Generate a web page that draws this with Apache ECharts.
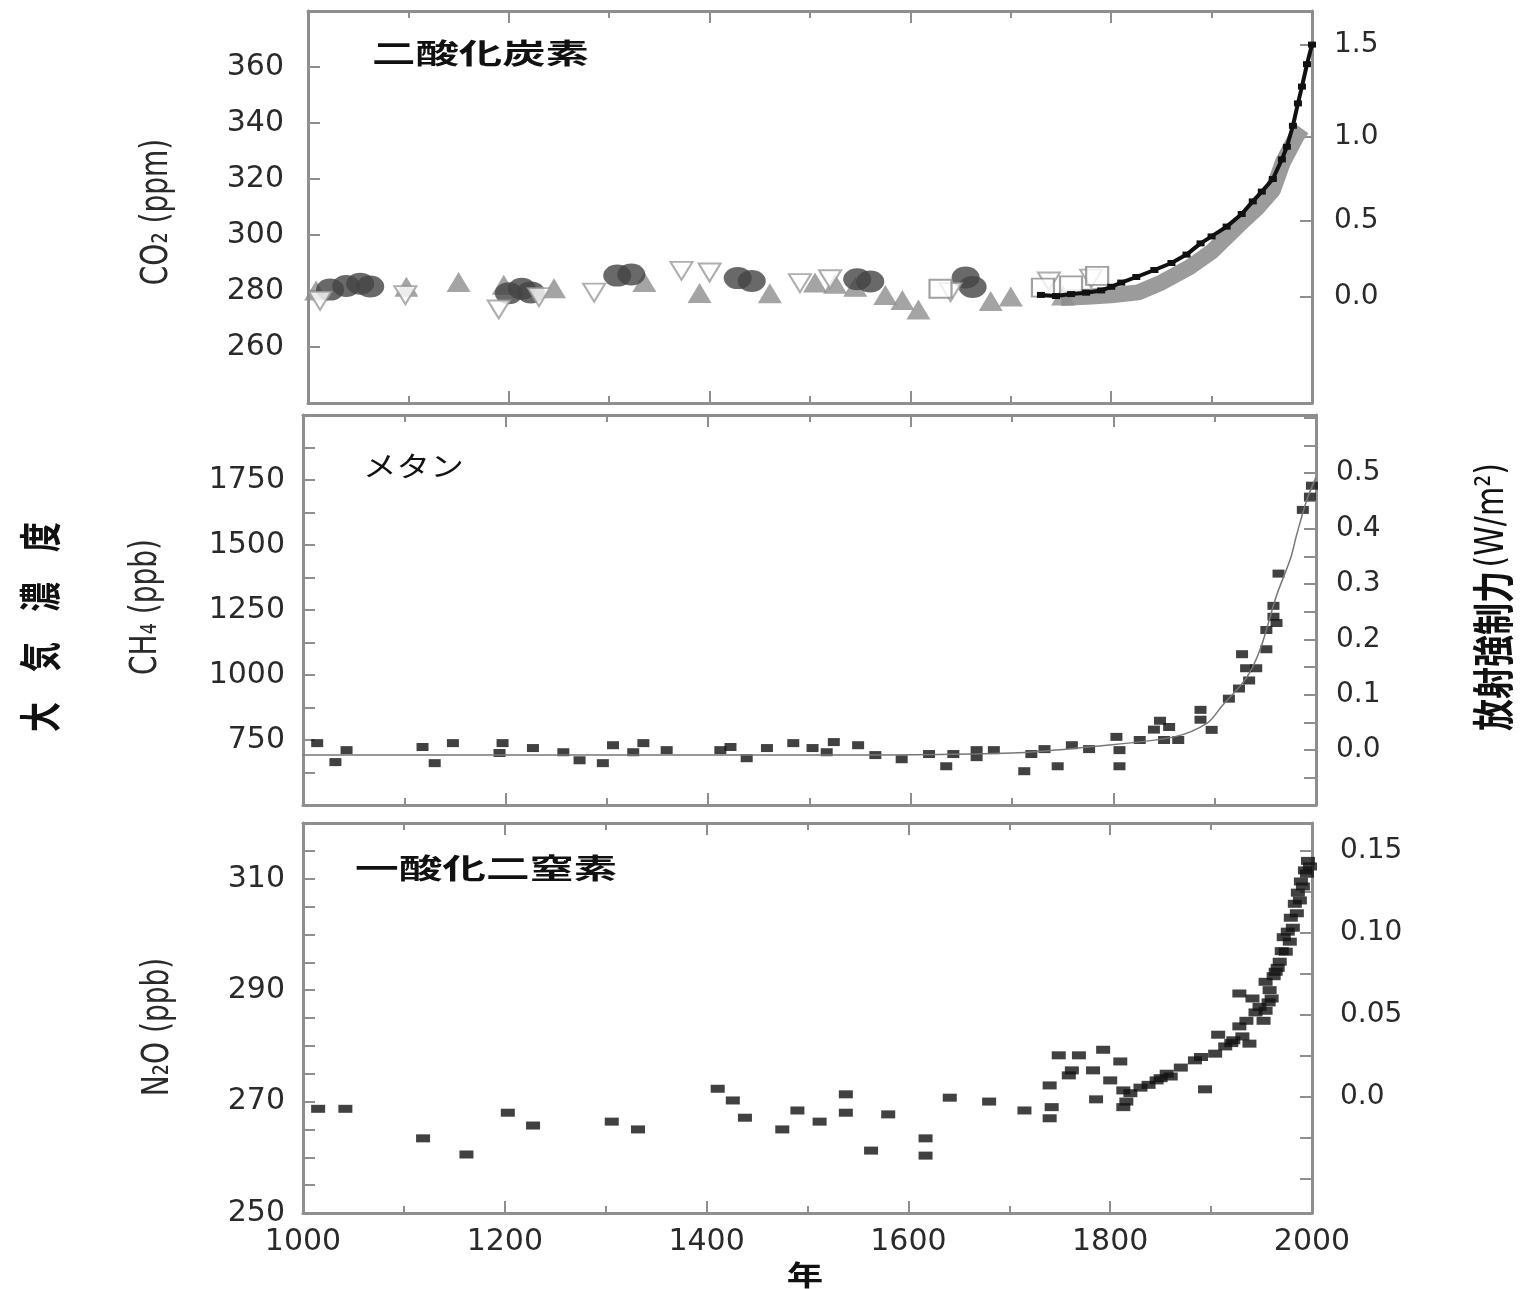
<!DOCTYPE html>
<html>
<head>
<meta charset="utf-8">
<title>大気濃度と放射強制力</title>
<script src="https://cdn.jsdelivr.net/npm/echarts@6/dist/echarts.min.js"></script>
<style>
  html, body { margin: 0; padding: 0; background: #fff; }
  #chart { width: 1533px; height: 1289px; }
</style>
</head>
<body>
<div id="chart"></div>
<script>
// ---- データ ----
// 年の目盛り
const yearTicks = [1000, 1200, 1400, 1600, 1800, 2000];

// 二酸化炭素 (ppm)
const co2Ticks = [260, 280, 300, 320, 340, 360];
const co2ForcingLabels = ['0.0', '0.5', '1.0', '1.5'];
const co2Circles = [[1022, 280.5], [1038, 281.8], [1052, 282.6], [1062, 281.6], [1200, 279.2], [1213, 280.8],
  [1222, 279.5], [1308, 285.5], [1322, 285.9], [1428, 284.6], [1442, 283.6], [1547, 284.2], [1560, 283.4],
  [1655, 284.8], [1662, 281.4]];
const co2UpTri = [[1008, 280.2], [1098, 281.5], [1150, 283.2], [1195, 282.2], [1245, 281], [1335, 283.2],
  [1390, 279.3], [1460, 279.2], [1505, 283], [1525, 282.6], [1545, 281.5], [1575, 278.6], [1592, 276.8],
  [1608, 273.4], [1680, 276.4], [1700, 278], [1752, 278.4]];
const co2DownTri = [[1012, 276.5], [1097, 278.5], [1190, 273.4], [1230, 277.8], [1285, 279.4], [1372, 287.2],
  [1400, 286.6], [1490, 282.8], [1520, 284.2], [1640, 279.6], [1738, 283.4], [1780, 284.4]];
const co2Squares = [[1630, 280.8], [1732, 281.2], [1760, 282], [1786, 285.4]];
const co2Band = [[1750, 277.5], [1780, 278], [1800, 278.5], [1827, 279.5], [1850, 283], [1878, 288.5],
  [1900, 294], [1927, 303.5], [1945, 309.5], [1961, 316], [1971, 326], [1985, 335.5], [1990, 338]];
const co2Modern = [[1730, 278.6], [1745, 278.2], [1760, 278.9], [1775, 279.4], [1790, 280.2], [1800, 281.5],
  [1810, 283], [1825, 285], [1843, 287.5], [1860, 290], [1875, 293], [1889, 297], [1900, 299.5], [1915, 303],
  [1930, 307.5], [1941, 312], [1950, 315.5], [1961, 320], [1970, 327], [1975, 331.5], [1981, 339],
  [1986, 347], [1990, 353], [1995, 361], [2000, 368]];

// メタン (ppb)
const ch4Ticks = [750, 1000, 1250, 1500, 1750];
const ch4ForcingLabels = ['0.0', '0.1', '0.2', '0.3', '0.4', '0.5'];
const ch4Fit = [[1000, 692], [1500, 692], [1700, 700], [1780, 725], [1860, 762], [1893, 816], [1907, 880],
  [1931, 987], [1945, 1100], [1961, 1305], [1975, 1450], [1981, 1541], [1991, 1674], [2000, 1760]];
const ch4Points = [[1014, 738], [1032, 665], [1043, 711], [1118, 723], [1130, 661], [1148, 738], [1194, 700],
  [1197, 738], [1227, 719], [1257, 703], [1273, 672], [1296, 661], [1306, 730], [1326, 703], [1336, 738],
  [1359, 711], [1412, 711], [1422, 723], [1438, 680], [1458, 719], [1484, 738], [1503, 719], [1517, 703],
  [1524, 742], [1548, 730], [1565, 692], [1591, 676], [1618, 696], [1635, 649], [1642, 696], [1665, 711],
  [1665, 684], [1682, 711], [1712, 630], [1719, 696], [1732, 715], [1745, 649], [1759, 730], [1776, 715],
  [1803, 762], [1806, 711], [1806, 649], [1826, 750], [1840, 790], [1846, 824], [1850, 750], [1855, 800],
  [1864, 750], [1886, 866], [1886, 828], [1897, 789], [1914, 909], [1924, 948], [1927, 1080], [1931, 1026],
  [1934, 979], [1941, 1026], [1951, 1099], [1951, 1173], [1958, 1224], [1958, 1266], [1961, 1200],
  [1963, 1390], [1987, 1635], [1994, 1686], [1996, 1728]];

// 一酸化二窒素 (ppb)
const n2oTicks = [250, 270, 290, 310];
const n2oForcingLabels = ['0.0', '0.05', '0.10', '0.15'];
const n2oPoints = [[1015, 268.7], [1042, 268.7], [1119, 263.4], [1162, 260.5], [1203, 268], [1228, 265.7],
  [1306, 266.4], [1332, 265], [1411, 272.3], [1426, 270.2], [1438, 267.1], [1475, 265], [1490, 268.4],
  [1512, 266.4], [1538, 271.3], [1538, 268], [1563, 261.2], [1580, 267.7], [1617, 263.4], [1617, 260.3],
  [1641, 270.7], [1680, 270], [1715, 268.4], [1740, 272.9], [1742, 269], [1740, 267], [1749, 278.3],
  [1769, 278.3], [1759, 274.7], [1762, 275.6], [1783, 275.6], [1793, 279.3], [1786, 270.4], [1800, 273.8],
  [1810, 277.2], [1813, 272], [1813, 269], [1816, 270], [1820, 271.5], [1830, 272.5], [1838, 273],
  [1846, 273.8], [1850, 274.2], [1856, 275], [1860, 274.5], [1870, 276.1], [1884, 277.4], [1890, 278],
  [1894, 272.2], [1904, 278.6], [1907, 282], [1914, 279.9], [1920, 280.5], [1922, 281], [1928, 283.5],
  [1931, 281.7], [1935, 284.5], [1938, 280.4], [1928, 289.4], [1941, 288.5], [1944, 286], [1948, 287],
  [1952, 284.5], [1954, 286.3], [1957, 287.8], [1954, 291.5], [1958, 290], [1960, 288.5], [1962, 292.5],
  [1964, 293.3], [1966, 294], [1968, 295.1], [1970, 297], [1972, 299.5], [1974, 296.9], [1976, 300.5],
  [1978, 298.7], [1979, 303], [1981, 301.2], [1983, 305.5], [1985, 303.8], [1986, 307.5], [1988, 306.1],
  [1989, 309.5], [1991, 308.6], [1993, 311.5], [1995, 310.9], [1996, 313.2], [1998, 312.2]];

// ---- 描画 ----
const NUM_FONT = 'DejaVu Sans';
const JP_FONT = '"Noto Sans CJK JP"';
const AXIS_COLOR = '#8e8e8e';
const TEXT_COLOR = '#2a2a2a';

// 目盛り位置を等間隔で並べる
function steps(a, b, step) {
  const out = [];
  for (let v = a; v <= b + 1e-9; v += step) out.push(+v.toFixed(4));
  return out;
}
// 一番近い目盛りのラベルを返す
function pickLabel(values, labels) {
  return function (v) {
    let best = 0;
    values.forEach((t, i) => { if (Math.abs(t - v) < Math.abs(values[best] - v)) best = i; });
    return labels[best];
  };
}
// 桁区切りなしの数字
const plain = v => String(Math.round(v));

// CO2 の放射強制力は対数なので ppm に換算した位置に目盛りを置く
const co2ForcingPpm = co2ForcingLabels.map(s => 278 * Math.exp(parseFloat(s) / 5.35));
const ch4ForcingVals = ch4ForcingLabels.map(Number);
const n2oForcingVals = n2oForcingLabels.map(Number);

const lineStyle = { color: AXIS_COLOR, width: 3 };
const tickStyle = { color: AXIS_COLOR, width: 2 };

function yearAxis(gridIndex, position, showLabel) {
  return {
    type: 'value', gridIndex: gridIndex, position: position,
    min: 1000, max: 2000, interval: 200,
    axisLine: { show: true, onZero: false, lineStyle: lineStyle },
    axisTick: { show: true, inside: true, length: 12, lineStyle: tickStyle },
    minorTick: { show: true, splitNumber: 2, length: 7, lineStyle: tickStyle },
    axisLabel: {
      show: showLabel, customValues: yearTicks, margin: 14, formatter: plain,
      fontFamily: NUM_FONT, fontSize: 30, color: TEXT_COLOR
    },
    splitLine: { show: false }
  };
}

function valueAxis(gridIndex, position, min, max, tickVals, labelVals, formatter, fontSize, margin) {
  return {
    type: 'value', gridIndex: gridIndex, position: position, min: min, max: max,
    axisLine: { show: true, onZero: false, lineStyle: lineStyle },
    axisTick: { show: true, inside: true, length: 12, customValues: tickVals, lineStyle: tickStyle },
    axisLabel: {
      customValues: labelVals, formatter: formatter || plain, margin: margin,
      fontFamily: NUM_FONT, fontSize: fontSize, color: TEXT_COLOR
    },
    splitLine: { show: false }
  };
}

const chart = echarts.init(document.getElementById('chart'));

const option = {
  animation: false,
  backgroundColor: '#fff',
  grid: [
    { left: 308, top: 11, width: 1004, height: 392 },
    { left: 303, top: 415, width: 1013, height: 390 },
    { left: 303, top: 823, width: 1009, height: 390 }
  ],
  xAxis: [
    yearAxis(0, 'bottom', false), yearAxis(0, 'top', false),
    yearAxis(1, 'bottom', false), yearAxis(1, 'top', false),
    yearAxis(2, 'bottom', true), yearAxis(2, 'top', false)
  ],
  yAxis: [
    valueAxis(0, 'left', 240, 380, co2Ticks, co2Ticks, null, 30, 24),
    valueAxis(0, 'right', 240, 380, co2ForcingPpm, co2ForcingPpm,
      pickLabel(co2ForcingPpm, co2ForcingLabels), 28, 22),
    valueAxis(1, 'left', 500, 2000, steps(500, 2000, 125), ch4Ticks, null, 30, 18),
    valueAxis(1, 'right', -0.099, 0.605, steps(-0.05, 0.6, 0.05), ch4ForcingVals,
      pickLabel(ch4ForcingVals, ch4ForcingLabels), 28, 20),
    valueAxis(2, 'left', 250, 320, steps(255, 315, 5), n2oTicks, null, 30, 18),
    valueAxis(2, 'right', -0.0711, 0.167, steps(-0.05, 0.15, 0.025), n2oForcingVals,
      pickLabel(n2oForcingVals, n2oForcingLabels), 28, 28)
  ],
  series: [
    {
      type: 'line', xAxisIndex: 0, yAxisIndex: 0, data: co2Band, showSymbol: false, z: 1,
      lineStyle: { color: '#9b9b9b', width: 16 }
    },
    {
      type: 'scatter', xAxisIndex: 0, yAxisIndex: 0, data: co2UpTri, z: 2,
      symbol: 'triangle', symbolSize: [24, 20], itemStyle: { color: '#8d8d8d' }
    },
    {
      type: 'scatter', xAxisIndex: 0, yAxisIndex: 0, data: co2Circles, z: 3,
      symbol: 'circle', symbolSize: [28, 22], itemStyle: { color: '#444444' }
    },
    {
      type: 'scatter', xAxisIndex: 0, yAxisIndex: 0, data: co2DownTri, z: 4,
      symbol: 'triangle', symbolRotate: 180, symbolSize: [22, 18],
      itemStyle: { color: '#ffffff', borderColor: '#9a9a9a', borderWidth: 2 }
    },
    {
      type: 'scatter', xAxisIndex: 0, yAxisIndex: 0, data: co2Squares, z: 4,
      symbol: 'rect', symbolSize: [22, 18],
      itemStyle: { color: '#ffffff', borderColor: '#8a8a8a', borderWidth: 2 }
    },
    {
      type: 'line', xAxisIndex: 0, yAxisIndex: 0, data: co2Modern, z: 5,
      symbol: 'rect', symbolSize: [8, 6], itemStyle: { color: '#111' },
      lineStyle: { color: '#111', width: 4 }
    },
    {
      type: 'line', xAxisIndex: 2, yAxisIndex: 2, data: ch4Fit, showSymbol: false, smooth: 0.3,
      lineStyle: { color: '#777', width: 1.5 }
    },
    {
      type: 'scatter', xAxisIndex: 2, yAxisIndex: 2, data: ch4Points,
      symbol: 'rect', symbolSize: [12, 8], itemStyle: { color: '#111' }
    },
    {
      type: 'scatter', xAxisIndex: 4, yAxisIndex: 4, data: n2oPoints,
      symbol: 'rect', symbolSize: [14, 8], itemStyle: { color: '#111' }
    }
  ],
  graphic: [
    // パネル見出し
    {
      type: 'text', x: 372, y: 53, scaleX: 1.55,
      style: { text: '二酸化炭素', font: 'bold 28px ' + JP_FONT, fill: '#111',
        align: 'left', textAlign: 'left', verticalAlign: 'middle', textVerticalAlign: 'middle' }
    },
    {
      type: 'text', x: 363, y: 466, scaleX: 1.2,
      style: { text: 'メタン', font: '28px ' + JP_FONT, fill: '#111',
        align: 'left', textAlign: 'left', verticalAlign: 'middle', textVerticalAlign: 'middle' }
    },
    {
      type: 'text', x: 355, y: 868, scaleX: 1.56,
      style: { text: '一酸化二窒素', font: 'bold 28px ' + JP_FONT, fill: '#111',
        align: 'left', textAlign: 'left', verticalAlign: 'middle', textVerticalAlign: 'middle' }
    },
    // 年
    {
      type: 'text', x: 805, y: 1275, scaleX: 1.3,
      style: { text: '年', font: 'bold 28px ' + JP_FONT, fill: '#111',
        align: 'center', textAlign: 'center', verticalAlign: 'middle', textVerticalAlign: 'middle' }
    },
    // 縦軸の名前
    {
      type: 'text', x: 157, y: 212, rotation: Math.PI / 2, scaleY: 1.35,
      style: { text: 'CO₂ (ppm)', font: '28px ' + NUM_FONT, fill: TEXT_COLOR,
        align: 'center', textAlign: 'center', verticalAlign: 'middle', textVerticalAlign: 'middle' }
    },
    {
      type: 'text', x: 146, y: 607, rotation: Math.PI / 2, scaleY: 1.35,
      style: { text: 'CH₄ (ppb)', font: '28px ' + NUM_FONT, fill: TEXT_COLOR,
        align: 'center', textAlign: 'center', verticalAlign: 'middle', textVerticalAlign: 'middle' }
    },
    {
      type: 'text', x: 158, y: 1027, rotation: Math.PI / 2, scaleY: 1.35,
      style: { text: 'N₂O (ppb)', font: '28px ' + NUM_FONT, fill: TEXT_COLOR,
        align: 'center', textAlign: 'center', verticalAlign: 'middle', textVerticalAlign: 'middle' }
    },
    {
      type: 'text', x: 40, y: 627, rotation: Math.PI / 2, scaleY: 1.4,
      style: { text: '大　気　濃　度', font: 'bold 30px ' + JP_FONT, fill: '#111',
        align: 'center', textAlign: 'center', verticalAlign: 'middle', textVerticalAlign: 'middle' }
    },
    {
      type: 'text', x: 1493, y: 597, rotation: Math.PI / 2, scaleY: 1.3,
      style: {
        text: '{a|放射強制力} {b|(W/m²)}', fill: '#111',
        align: 'center', textAlign: 'center', verticalAlign: 'middle', textVerticalAlign: 'middle',
        rich: {
          a: { fontFamily: 'Noto Sans CJK JP', fontSize: 32, fontWeight: 'bold', color: '#111' },
          b: { fontFamily: NUM_FONT, fontSize: 30, color: '#222' }
        }
      }
    }
  ]
};

chart.setOption(option);
window.addEventListener('resize', chart.resize);
</script>
</body>
</html>
